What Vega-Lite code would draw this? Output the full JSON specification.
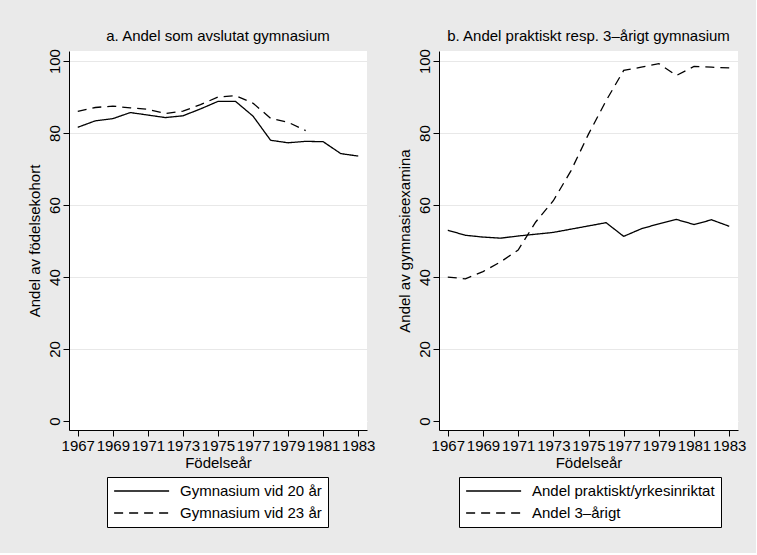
{
  "$schema": "https://vega.github.io/schema/vega-lite/v6.json",
  "background": "#eaeaea",
  "padding": {"left": 27, "top": 28, "right": 10, "bottom": 25},
  "spacing": 22,
  "config": {
    "font": "Liberation Sans",
    "view": {"stroke": null, "fill": "white"},
    "title": {"fontSize": 15, "fontWeight": "normal", "color": "black", "offset": 5, "anchor": "middle"},
    "axis": {
      "domainColor": "black", "domainWidth": 1, "tickColor": "black", "tickSize": 6, "tickWidth": 1,
      "labelFontSize": 15, "labelColor": "black", "titleFontSize": 15, "titleFontWeight": "normal", "titleColor": "black",
      "labelOverlap": false, "labelFlush": false
    },
    "axisX": {"grid": false, "labelPadding": 2, "titlePadding": 2},
    "axisY": {
      "labelAngle": -90, "labelAlign": "center", "labelBaseline": "bottom", "labelPadding": 1, "titlePadding": 5,
      "gridColor": {"condition": {"test": "datum.value === 0", "value": "white"}, "value": "#e8e8e8"}, "gridWidth": 1
    },
    "legend": {
      "orient": "none", "title": null, "direction": "vertical", "symbolType": "M-1,0H7", "symbolSize": 189,
      "symbolStrokeWidth": 1.3, "symbolStrokeColor": "black", "symbolFillColor": "transparent",
      "labelFontSize": 15, "labelColor": "black", "labelLimit": 400,
      "fillColor": "white", "strokeColor": "black", "padding": 6, "rowPadding": 6, "labelOffset": 51
    }
  },
  "datasets": {
    "a": [
      {"year": 1967, "value": 81.6, "series": "Gymnasium vid 20 år"},
      {"year": 1968, "value": 83.4, "series": "Gymnasium vid 20 år"},
      {"year": 1969, "value": 84.0, "series": "Gymnasium vid 20 år"},
      {"year": 1970, "value": 85.7, "series": "Gymnasium vid 20 år"},
      {"year": 1971, "value": 85.0, "series": "Gymnasium vid 20 år"},
      {"year": 1972, "value": 84.3, "series": "Gymnasium vid 20 år"},
      {"year": 1973, "value": 84.8, "series": "Gymnasium vid 20 år"},
      {"year": 1974, "value": 86.7, "series": "Gymnasium vid 20 år"},
      {"year": 1975, "value": 88.8, "series": "Gymnasium vid 20 år"},
      {"year": 1976, "value": 88.8, "series": "Gymnasium vid 20 år"},
      {"year": 1977, "value": 84.7, "series": "Gymnasium vid 20 år"},
      {"year": 1978, "value": 78.0, "series": "Gymnasium vid 20 år"},
      {"year": 1979, "value": 77.3, "series": "Gymnasium vid 20 år"},
      {"year": 1980, "value": 77.7, "series": "Gymnasium vid 20 år"},
      {"year": 1981, "value": 77.6, "series": "Gymnasium vid 20 år"},
      {"year": 1982, "value": 74.3, "series": "Gymnasium vid 20 år"},
      {"year": 1983, "value": 73.6, "series": "Gymnasium vid 20 år"},
      {"year": 1967, "value": 86.0, "series": "Gymnasium vid 23 år"},
      {"year": 1968, "value": 87.1, "series": "Gymnasium vid 23 år"},
      {"year": 1969, "value": 87.5, "series": "Gymnasium vid 23 år"},
      {"year": 1970, "value": 87.0, "series": "Gymnasium vid 23 år"},
      {"year": 1971, "value": 86.6, "series": "Gymnasium vid 23 år"},
      {"year": 1972, "value": 85.4, "series": "Gymnasium vid 23 år"},
      {"year": 1973, "value": 86.1, "series": "Gymnasium vid 23 år"},
      {"year": 1974, "value": 87.9, "series": "Gymnasium vid 23 år"},
      {"year": 1975, "value": 90.0, "series": "Gymnasium vid 23 år"},
      {"year": 1976, "value": 90.4, "series": "Gymnasium vid 23 år"},
      {"year": 1977, "value": 88.3, "series": "Gymnasium vid 23 år"},
      {"year": 1978, "value": 84.1, "series": "Gymnasium vid 23 år"},
      {"year": 1979, "value": 83.0, "series": "Gymnasium vid 23 år"},
      {"year": 1980, "value": 80.7, "series": "Gymnasium vid 23 år"}
    ],
    "b": [
      {"year": 1967, "value": 53.0, "series": "Andel praktiskt/yrkesinriktat"},
      {"year": 1968, "value": 51.6, "series": "Andel praktiskt/yrkesinriktat"},
      {"year": 1969, "value": 51.1, "series": "Andel praktiskt/yrkesinriktat"},
      {"year": 1970, "value": 50.8, "series": "Andel praktiskt/yrkesinriktat"},
      {"year": 1971, "value": 51.4, "series": "Andel praktiskt/yrkesinriktat"},
      {"year": 1972, "value": 51.9, "series": "Andel praktiskt/yrkesinriktat"},
      {"year": 1973, "value": 52.4, "series": "Andel praktiskt/yrkesinriktat"},
      {"year": 1974, "value": 53.3, "series": "Andel praktiskt/yrkesinriktat"},
      {"year": 1975, "value": 54.2, "series": "Andel praktiskt/yrkesinriktat"},
      {"year": 1976, "value": 55.1, "series": "Andel praktiskt/yrkesinriktat"},
      {"year": 1977, "value": 51.3, "series": "Andel praktiskt/yrkesinriktat"},
      {"year": 1978, "value": 53.4, "series": "Andel praktiskt/yrkesinriktat"},
      {"year": 1979, "value": 54.8, "series": "Andel praktiskt/yrkesinriktat"},
      {"year": 1980, "value": 56.0, "series": "Andel praktiskt/yrkesinriktat"},
      {"year": 1981, "value": 54.6, "series": "Andel praktiskt/yrkesinriktat"},
      {"year": 1982, "value": 55.9, "series": "Andel praktiskt/yrkesinriktat"},
      {"year": 1983, "value": 54.1, "series": "Andel praktiskt/yrkesinriktat"},
      {"year": 1967, "value": 40.0, "series": "Andel 3–årigt"},
      {"year": 1968, "value": 39.5, "series": "Andel 3–årigt"},
      {"year": 1969, "value": 41.5, "series": "Andel 3–årigt"},
      {"year": 1970, "value": 44.2, "series": "Andel 3–årigt"},
      {"year": 1971, "value": 47.5, "series": "Andel 3–årigt"},
      {"year": 1972, "value": 55.3, "series": "Andel 3–årigt"},
      {"year": 1973, "value": 61.2, "series": "Andel 3–årigt"},
      {"year": 1974, "value": 69.5, "series": "Andel 3–årigt"},
      {"year": 1975, "value": 79.7, "series": "Andel 3–årigt"},
      {"year": 1976, "value": 89.0, "series": "Andel 3–årigt"},
      {"year": 1977, "value": 97.4, "series": "Andel 3–årigt"},
      {"year": 1978, "value": 98.3, "series": "Andel 3–årigt"},
      {"year": 1979, "value": 99.3, "series": "Andel 3–årigt"},
      {"year": 1980, "value": 96.0, "series": "Andel 3–årigt"},
      {"year": 1981, "value": 98.5, "series": "Andel 3–årigt"},
      {"year": 1982, "value": 98.3, "series": "Andel 3–årigt"},
      {"year": 1983, "value": 98.1, "series": "Andel 3–årigt"}
    ]
  },
  "hconcat": [
    {
      "width": 298, "height": 379,
      "title": "a. Andel som avslutat gymnasium",
      "data": {"name": "a"},
      "mark": {"type": "line", "color": "black", "strokeWidth": 1.3},
      "encoding": {
        "x": {"field": "year", "type": "quantitative",
              "scale": {"domain": [1966.5, 1983.5], "nice": false, "zero": false},
              "axis": {"values": [1967, 1969, 1971, 1973, 1975, 1977, 1979, 1981, 1983], "format": "d", "title": "Födelseår"}},
        "y": {"field": "value", "type": "quantitative",
              "scale": {"domain": [-2.5, 102.8], "nice": false, "zero": false},
              "axis": {"values": [0, 20, 40, 60, 80, 100], "title": "Andel av födelsekohort"}},
        "strokeDash": {"field": "series", "type": "nominal",
              "scale": {"domain": ["Gymnasium vid 20 år", "Gymnasium vid 23 år"], "range": [[1, 0], [9, 6]]},
              "legend": {"legendX": 38, "legendY": 426}}
      }
    },
    {
      "width": 299, "height": 379,
      "title": "b. Andel praktiskt resp. 3–årigt gymnasium",
      "data": {"name": "b"},
      "mark": {"type": "line", "color": "black", "strokeWidth": 1.3},
      "encoding": {
        "x": {"field": "year", "type": "quantitative",
              "scale": {"domain": [1966.5, 1983.5], "nice": false, "zero": false},
              "axis": {"values": [1967, 1969, 1971, 1973, 1975, 1977, 1979, 1981, 1983], "format": "d", "title": "Födelseår"}},
        "y": {"field": "value", "type": "quantitative",
              "scale": {"domain": [-2.5, 102.8], "nice": false, "zero": false},
              "axis": {"values": [0, 20, 40, 60, 80, 100], "title": "Andel av gymnasieexamina"}},
        "strokeDash": {"field": "series", "type": "nominal",
              "scale": {"domain": ["Andel praktiskt/yrkesinriktat", "Andel 3–årigt"], "range": [[1, 0], [9, 6]]},
              "legend": {"legendX": 20, "legendY": 426}}
      }
    }
  ],
  "resolve": {
    "scale": {"x": "independent", "y": "independent", "strokeDash": "independent"},
    "legend": {"strokeDash": "independent"}
  }
}
